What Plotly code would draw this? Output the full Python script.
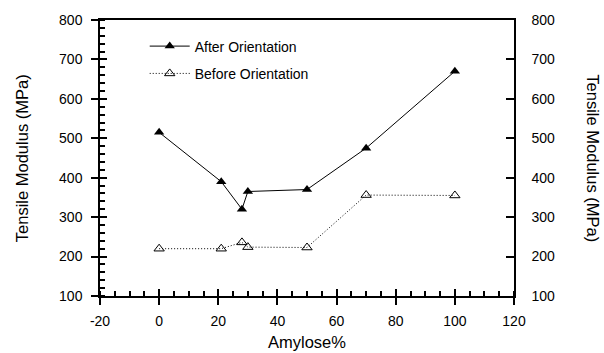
import plotly.graph_objects as go

amylose = [0, 21, 28, 30, 50, 70, 100]
after_orientation = [515, 390, 320, 365, 370, 475, 670]
before_orientation = [220, 220, 236, 224, 223, 356, 355]
x_ticks = [-20, 0, 20, 40, 60, 80, 100, 120]
x_tick_labels = ["-20", "0", "20", "40", "60", "80", "100", "120"]
y_ticks = [100, 200, 300, 400, 500, 600, 700, 800]

FONT = "Liberation Sans, Arial, Helvetica, sans-serif"

fig = go.Figure()
fig.add_trace(go.Scatter(
    x=amylose, y=after_orientation, name="After Orientation", mode="lines+markers",
    line=dict(color="black", width=1), marker=dict(symbol="triangle-up", size=9, color="black"),
    legend="legend"))
fig.add_trace(go.Scatter(
    x=amylose, y=before_orientation, name="Before Orientation", mode="lines+markers",
    line=dict(color="black", width=1, dash="1px,2px"),
    marker=dict(symbol="triangle-up-open", size=9, color="black", line=dict(width=1)),
    legend="legend2"))

common_y = dict(range=[100, 800], tickvals=y_ticks, showgrid=False, zeroline=False,
                linecolor="black", linewidth=1.5, tickcolor="black", tickwidth=1.5)

leg = dict(xanchor="left", yanchor="middle", bgcolor="rgba(0,0,0,0)",
           font=dict(size=14), itemwidth=40, borderwidth=0)

fig.update_layout(
    width=604, height=353,
    margin=dict(l=100, r=90, t=15, b=57),
    paper_bgcolor="white", plot_bgcolor="white",
    font=dict(family=FONT, size=14, color="black"),
    showlegend=True,
    legend=dict(**leg, x=0.108, y=0.904),
    legend2=dict(**leg, x=0.108, y=0.805),
    xaxis=dict(range=[-20, 120], tickvals=x_ticks, ticktext=x_tick_labels,
               showgrid=False, zeroline=False,
               showline=True, linecolor="black", linewidth=1.5, mirror=True,
               ticks="outside", ticklen=7, tickcolor="black", tickwidth=1.5,
               ticklabelstandoff=4,
               minor=dict(dtick=5, ticks="inside", ticklen=5, tickcolor="black", tickwidth=1.5)),
    xaxis2=dict(range=[-20, 120], tickvals=x_ticks, overlaying="x", showgrid=False,
                zeroline=False, showticklabels=False, ticks="inside", ticklen=7,
                tickcolor="black", tickwidth=1.5, showline=False, side="bottom"),
    yaxis=dict(**common_y, showline=True, ticks="outside", ticklen=7, ticklabelstandoff=6,
               minor=dict(dtick=20, ticks="inside", ticklen=5, tickcolor="black", tickwidth=1.5)),
    yaxis3=dict(**common_y, overlaying="y", showline=False,
                showticklabels=False, ticks="inside", ticklen=7),
    yaxis2=dict(**common_y, overlaying="y", side="right", showline=True, ticks="inside",
                ticklen=8, ticklabelstandoff=13),
    annotations=[
        dict(text="Amylose%", xref="paper", yref="paper", x=0.5, y=-0.167,
             xanchor="center", yanchor="middle", showarrow=False, font=dict(size=16.5)),
        dict(text="Tensile Modulus (MPa)", xref="paper", yref="paper", x=-0.188, y=0.5,
             xanchor="center", yanchor="middle", textangle=-90, showarrow=False,
             font=dict(size=16.5)),
        dict(text="Tensile Modulus (MPa)", xref="paper", yref="paper", x=1.19, y=0.5,
             xanchor="center", yanchor="middle", textangle=90, showarrow=False,
             font=dict(size=16.5)),
    ],
)

# empty traces to activate overlay axes
fig.add_trace(go.Scatter(x=[None], y=[None], xaxis="x2", yaxis="y3", showlegend=False, hoverinfo="skip"))
fig.add_trace(go.Scatter(x=[None], y=[None], xaxis="x", yaxis="y2", showlegend=False, hoverinfo="skip"))

fig.write_html("out.html")
